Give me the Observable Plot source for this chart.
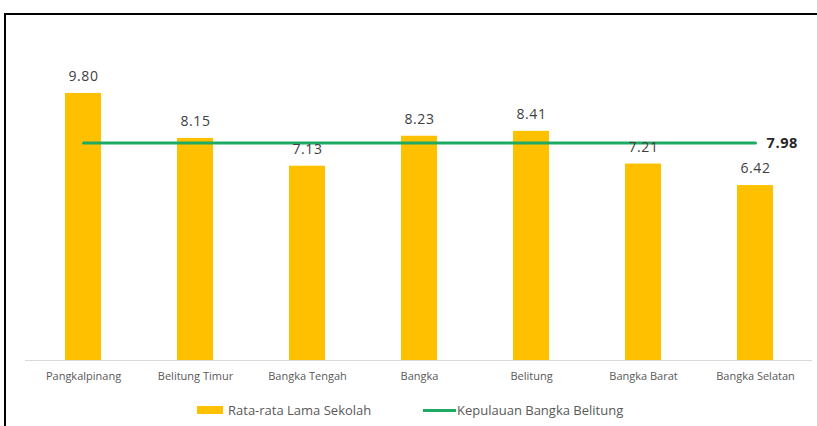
<!DOCTYPE html>
<html>
<head>
<meta charset="utf-8">
<script src="https://cdn.jsdelivr.net/npm/d3@7"></script>
<script src="https://cdn.jsdelivr.net/npm/@observablehq/plot@0.6"></script>
<style>
  html, body { margin: 0; padding: 0; background: #fff; overflow: hidden; width: 817px; height: 426px; }
  #frame { position: absolute; left: 4px; top: 13px; width: 900px; height: 500px; border-top: 2px solid #000; border-left: 2px solid #000; box-sizing: border-box; }
  #chart { position: absolute; left: 0; top: 0; }
  #legend { position: absolute; left: 0; top: 400px; width: 817px; height: 20px; font-family: "Open Sans", sans-serif; font-size: 13px; color: #595959; line-height: 20px; }
  .sw-bar { position: absolute; left: 197px; top: 6px; width: 26px; height: 8px; background: #FFC000; }
  .lb1 { position: absolute; left: 228px; top: 0px; }
  .sw-line { position: absolute; left: 423px; top: 9px; width: 33px; height: 3px; background: #1EAA62; }
  .lb2 { position: absolute; left: 457px; top: 0px; }
</style>
</head>
<body>
<div id="frame"></div>
<div id="chart"></div>
<div id="legend">
  <div class="sw-bar"></div><div class="lb1">Rata-rata Lama Sekolah</div>
  <div class="sw-line"></div><div class="lb2">Kepulauan Bangka Belitung</div>
</div>
<script>
const regions = ["Pangkalpinang", "Belitung Timur", "Bangka Tengah", "Bangka", "Belitung", "Bangka Barat", "Bangka Selatan"];
const rls = [9.80, 8.15, 7.13, 8.23, 8.41, 7.21, 6.42];
const provinceValue = 7.98;
const seriesBar = "Rata-rata Lama Sekolah";
const seriesLine = "Kepulauan Bangka Belitung";

const data = regions.map((r, i) => ({ region: r, value: rls[i] }));
const lineData = regions.map(r => ({ region: r, value: provinceValue }));

const chart = Plot.plot({
  width: 817,
  height: 395,
  marginLeft: 25,
  marginRight: 5,
  marginTop: 33,
  marginBottom: 35,
  style: { fontFamily: "'Open Sans', sans-serif", background: "transparent" },
  x: { domain: regions, padding: 0, label: null },
  y: { domain: [0, 12], axis: null },
  marks: [
    Plot.barY(data, { x: "region", y: "value", fill: "#FFC000", insetLeft: 38, insetRight: 38 }),
    Plot.ruleY([0], { stroke: "#D9D9D9", strokeWidth: 1 }),
    Plot.lineY(lineData, { x: "region", y: "value", stroke: "#1EAA62", strokeWidth: 3 }),
    Plot.text(data, { x: "region", y: "value", text: d => d.value.toFixed(2), dy: -17, fontSize: 14, fill: "#404040", style: "letter-spacing:0.6px" }),
    Plot.text([lineData[lineData.length - 1]], { x: "region", y: "value", text: d => d.value.toFixed(2), dx: 11, textAnchor: "start", fontSize: 14.5, fontWeight: "bold", fill: "#262626" }),
    Plot.axisX({ tickSize: 0, tickPadding: 12, fontSize: 11, color: "#595959", label: null })
  ]
});
chart.querySelectorAll("[aria-label='text'] text").forEach(t => t.setAttribute("letter-spacing", "0.6"));
document.getElementById("chart").appendChild(chart);
</script>
</body>
</html>
